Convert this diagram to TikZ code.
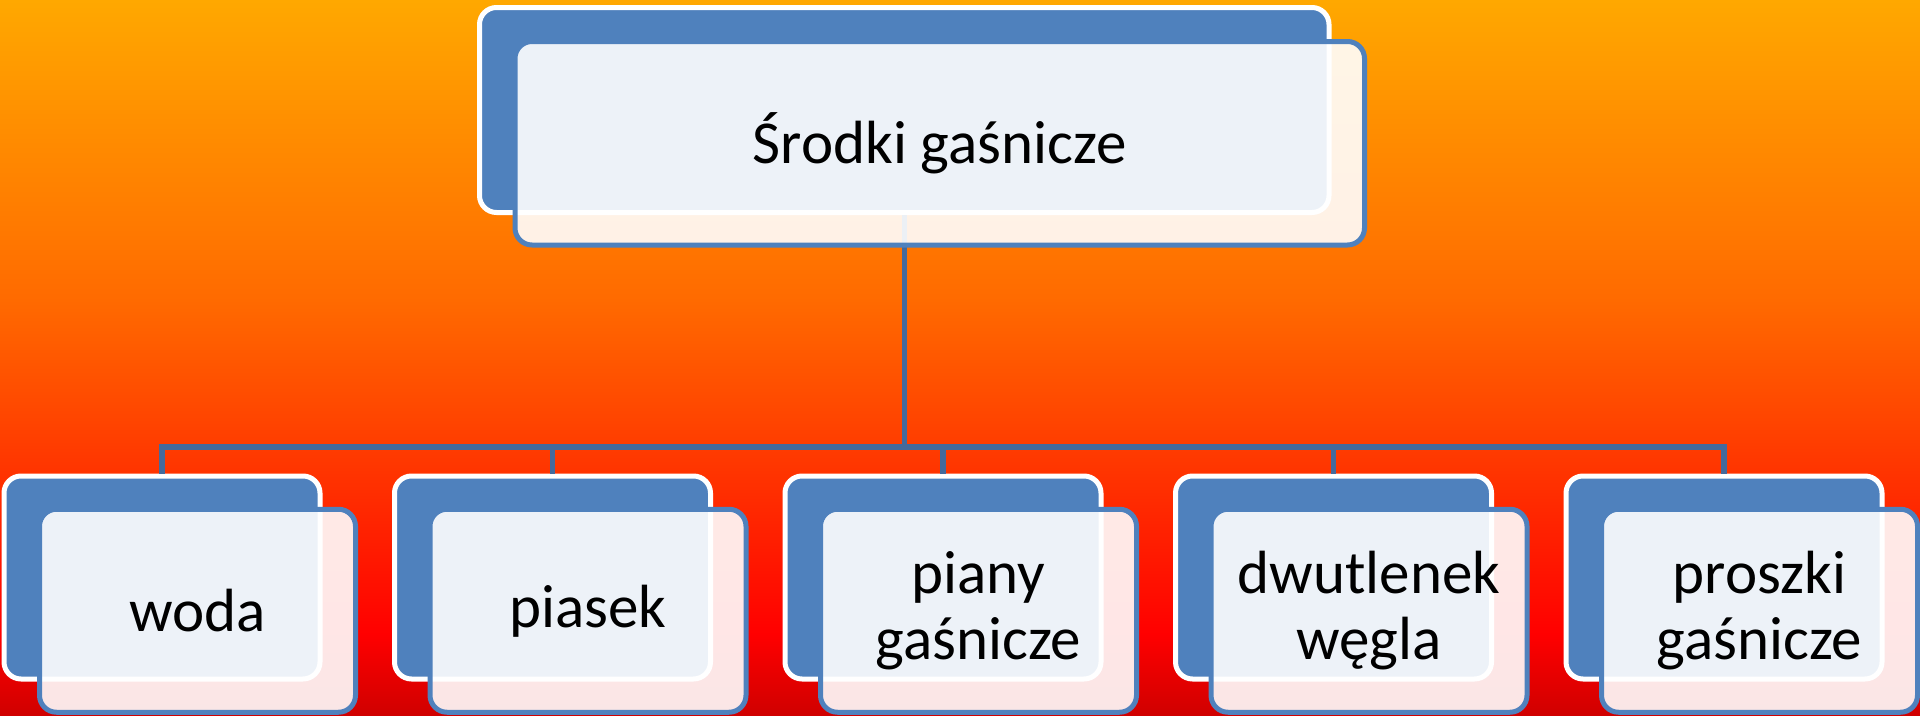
\documentclass[tikz,border=0pt]{standalone}
\usepackage{fontspec}
\setmainfont{Carlito}
\definecolor{boxblue}{HTML}{4F81BD}
\definecolor{linecol}{RGB}{68,106,156}
\definecolor{bgA}{HTML}{FFA800}
\definecolor{bgB}{HTML}{FF6A00}
\definecolor{bgC}{HTML}{FF3C00}
\definecolor{bgD}{HTML}{FF0000}
\definecolor{bgE}{HTML}{D00000}
\begin{document}
\begin{tikzpicture}[x=1pt,y=-1pt,
  backbox/.style={rectangle, rounded corners=17pt, fill=boxblue, draw=white, line width=5pt, inner sep=0pt},
  frontbox/.style={rectangle, rounded corners=17pt, fill=white, fill opacity=0.9, text opacity=1, draw=boxblue, draw opacity=1, line width=5pt, inner sep=0pt, align=center, font=\fontsize{61}{66}\selectfont, text=black},
  smallbox/.style={minimum width=316pt, minimum height=203pt},
  conn/.style={draw=linecol, line width=5.5pt, line join=miter}]
\useasboundingbox (0,0) rectangle (1920,715);
% background
\shade[top color=bgA, bottom color=bgB] (0,0) rectangle (1920,300.5);
\shade[top color=bgB, bottom color=bgC] (0,300) rectangle (1920,447.5);
\shade[top color=bgC, bottom color=bgD] (0,447) rectangle (1920,634.5);
\shade[top color=bgD, bottom color=bgE] (0,634) rectangle (1920,715);
% back boxes
\node[backbox, minimum width=849.5pt, minimum height=205pt] (tb) at (904.25,110) {};
\node[backbox, smallbox] (b1) at (162,577.5) {};
\node[backbox, smallbox] (b2) at (552.5,577.5) {};
\node[backbox, smallbox] (b3) at (943,577.5) {};
\node[backbox, smallbox] (b4) at (1333.5,577.5) {};
\node[backbox, smallbox] (b5) at (1724,577.5) {};
% connectors
\coordinate (bus) at (904.25,447);
\draw[conn] (tb.south) -- (bus);
\draw[conn] (bus) -| (b1.north);
\draw[conn] (bus) -| (b2.north);
\draw[conn] (bus) -| (b3.north);
\draw[conn] (bus) -| (b4.north);
\draw[conn] (bus) -| (b5.north);
% front boxes
\node[frontbox, minimum width=849.5pt, minimum height=203.5pt] (tf) at (939.75,143.25) {Środki gaśnicze};
\node[frontbox, smallbox] (f1) at (197.5,610.75) {woda};
\node[frontbox, smallbox] (f2) at (588,610.75) {piasek};
\node[frontbox, smallbox] (f3) at (978.5,610.75) {piany\\gaśnicze};
\node[frontbox, smallbox] (f4) at (1369,610.75) {dwutlenek\\węgla};
\node[frontbox, smallbox] (f5) at (1759.5,610.75) {proszki\\gaśnicze};
\end{tikzpicture}
\end{document}
